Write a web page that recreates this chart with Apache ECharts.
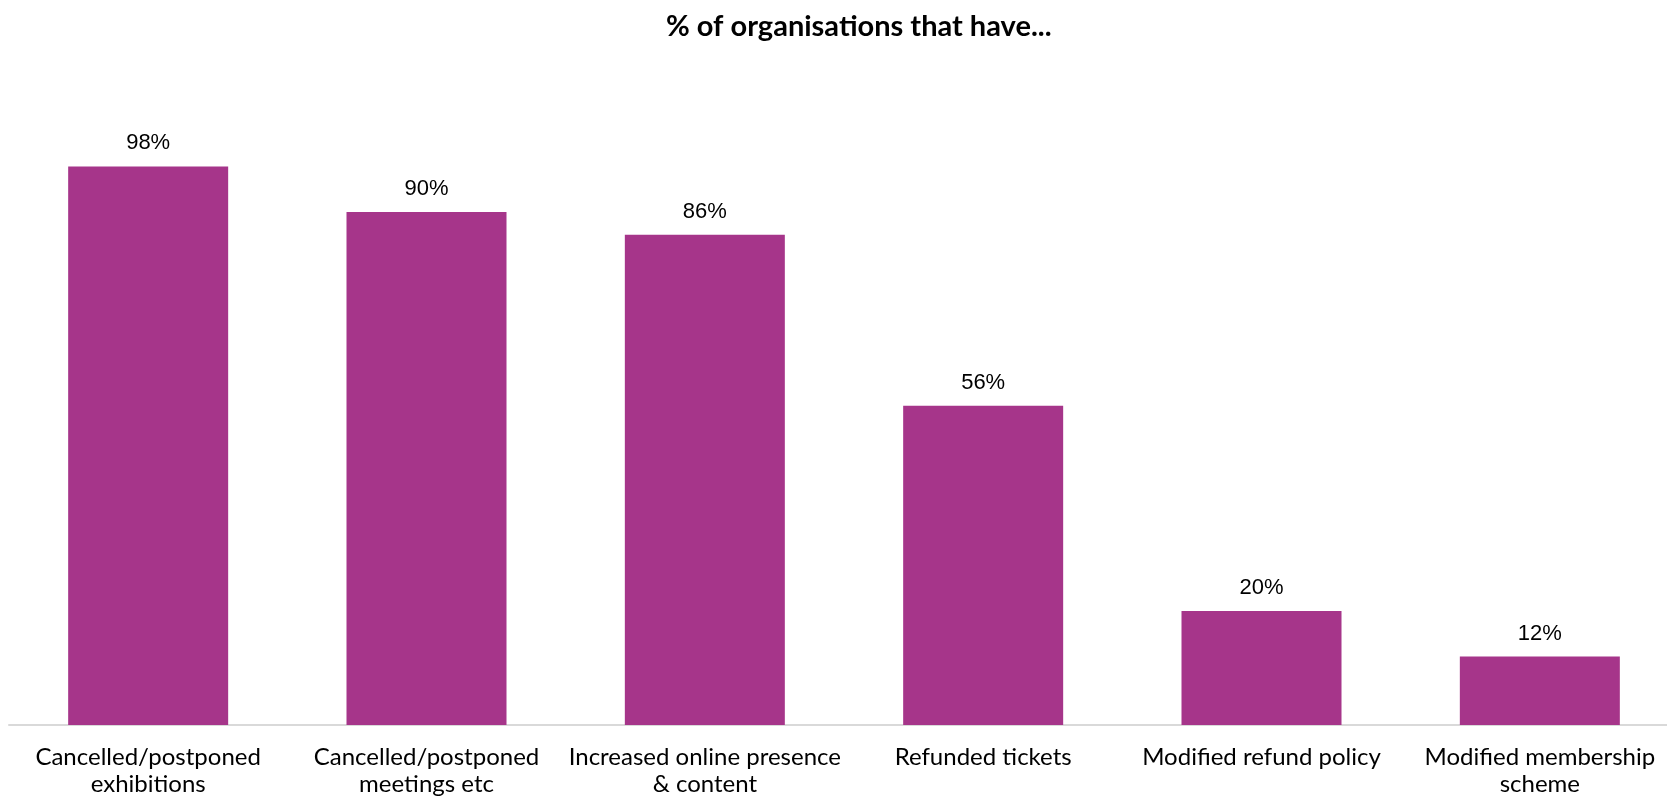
<!DOCTYPE html>
<html>
<head>
<meta charset="utf-8">
<title>% of organisations that have...</title>
<script src="https://cdn.jsdelivr.net/npm/echarts@6/dist/echarts.min.js"></script>
<style>
  html, body { margin: 0; padding: 0; background: #fff; }
  #chart { width: 1667px; height: 797px; }
</style>
</head>
<body>
<div id="chart"></div>
<script>
// data
var categories = [
  'Cancelled/postponed\nexhibitions',
  'Cancelled/postponed\nmeetings etc',
  'Increased online presence\n& content',
  'Refunded tickets',
  'Modified refund policy',
  'Modified membership\nscheme'
]
var percentValues = [98, 90, 86, 56, 20, 12]

var chart = echarts.init(document.getElementById('chart'))

chart.setOption({
  animation: false,
  title: {
    text: '% of organisations that have...',
    left: 661,
    top: 7,
    textStyle: {
      fontFamily: 'Lato',
      fontWeight: 'bold',
      fontSize: 29,
      color: '#000'
    }
  },
  grid: {
    left: 9,
    width: 1670, // last category runs past the right edge, as in the source
    top: 155,
    bottom: 72,
    outerBoundsMode: 'none',
    containLabel: false
  },
  xAxis: {
    type: 'category',
    data: categories,
    axisLine: { lineStyle: { color: '#d9d9d9', width: 2 } },
    axisTick: { show: false },
    axisLabel: {
      interval: 0,
      margin: 19,
      fontFamily: 'Lato',
      fontSize: 24,
      lineHeight: 27,
      color: '#000'
    }
  },
  yAxis: {
    type: 'value',
    min: 0,
    max: 100,
    show: false,
    splitLine: { show: false }
  },
  series: [
    {
      type: 'bar',
      data: percentValues,
      barWidth: 160,
      itemStyle: { color: '#a6358a' },
      label: {
        show: true,
        position: 'top',
        distance: 12,
        formatter: '{c}%',
        fontFamily: 'Liberation Sans',
        fontSize: 22,
        color: '#000'
      }
    }
  ]
})
</script>
</body>
</html>
